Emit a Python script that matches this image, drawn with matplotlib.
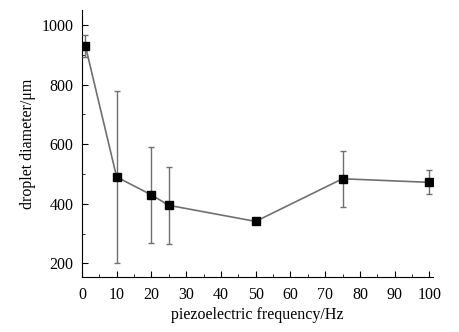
import matplotlib
matplotlib.use("Agg")
import matplotlib.pyplot as plt
from matplotlib.ticker import MultipleLocator

plt.rcParams['font.family'] = ['Liberation Serif', 'DejaVu Serif']

# piezoelectric frequency (Hz) vs droplet diameter (um)
freq = [1, 10, 20, 25, 50, 75, 100]
diameter = [930, 490, 430, 395, 341, 484, 472]
err = [37, 287, 160, 130, 3, 93, 40]

fig = plt.figure(figsize=(4.6, 3.32), dpi=100)
ax = fig.add_axes([0.178, 0.166, 0.763, 0.804])

ax.errorbar(freq, diameter, yerr=err, color='#707070', ecolor='#707070',
            elinewidth=1.0, capsize=2.5, capthick=1.0, linewidth=1.2,
            marker='s', markersize=5.5, markerfacecolor='black',
            markeredgecolor='black', zorder=3)

ax.set_xlim(0, 101)
ax.set_ylim(155, 1050)
ax.xaxis.set_major_locator(MultipleLocator(10))
ax.xaxis.set_minor_locator(MultipleLocator(5))
ax.yaxis.set_major_locator(MultipleLocator(200))
ax.yaxis.set_minor_locator(MultipleLocator(100))
ax.tick_params(which='both', direction='in', labelsize=11.5, top=False, right=False)
ax.tick_params(which='major', length=4)
ax.tick_params(which='minor', length=2)
ax.tick_params(axis='x', which='major', pad=7)
ax.tick_params(axis='y', which='major', pad=6)

for side in ['top', 'right']:
    ax.spines[side].set_visible(False)

ax.set_xlabel('piezoelectric frequency/Hz', fontsize=11.5, labelpad=3)
ax.set_ylabel('droplet diameter/μm', fontsize=11.5, labelpad=4)

fig.savefig('out.png', dpi=100)
